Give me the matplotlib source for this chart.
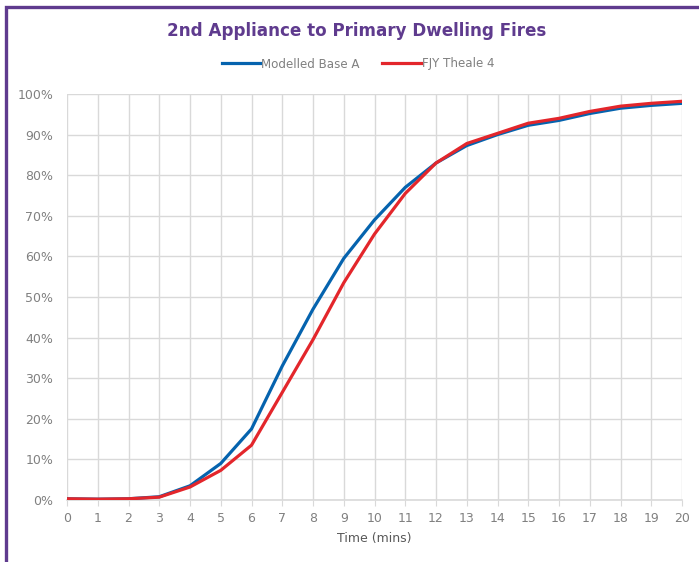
import matplotlib
matplotlib.use("Agg")
import matplotlib.pyplot as plt
from matplotlib.patches import Rectangle
from matplotlib.ticker import FuncFormatter

# ----------------- DATA -----------------
minutes = list(range(0, 21))
modelled_base_a = [0.3, 0.2, 0.3, 0.8, 3.5, 9.0, 17.5, 33.0, 47.0, 59.5, 69.0,
                   77.0, 83.0, 87.3, 90.0, 92.3, 93.5, 95.2, 96.5, 97.2, 97.7]
fjy_theale_4 = [0.3, 0.2, 0.3, 0.7, 3.2, 7.3, 13.5, 26.5, 39.5, 53.5, 65.5,
                75.5, 83.0, 87.8, 90.3, 92.8, 94.0, 95.7, 97.0, 97.7, 98.2]
y_ticks = list(range(0, 101, 10))

TITLE = "2nd Appliance to Primary Dwelling Fires"
PURPLE = "#5f3b8e"
GREY_TXT = "#808080"
GRID = "#d9d9d9"

plt.rcParams["font.family"] = ["DejaVu Sans"]

fig = plt.figure(figsize=(6.99, 5.62), dpi=100)
ax = fig.add_axes([67 / 699, 1 - 500 / 562, 615 / 699, 406 / 562])

ax.plot(minutes, modelled_base_a, color="#0563ae", lw=2.3, label="Modelled Base A",
        solid_joinstyle="round", zorder=3)
ax.plot(minutes, fjy_theale_4, color="#e3262b", lw=2.3, label="FJY Theale 4",
        solid_joinstyle="round", zorder=4)

ax.set_xlim(0, 20)
ax.set_ylim(0, 100)
ax.set_xticks(minutes)
ax.set_yticks(y_ticks)
ax.yaxis.set_major_formatter(FuncFormatter(lambda v, p: f"{int(v)}%"))
ax.grid(True, color=GRID, lw=1)
ax.set_axisbelow(True)
for s in ["left", "top", "right"]:
    ax.spines[s].set_visible(False)
ax.spines["bottom"].set_color(GRID)
ax.spines["bottom"].set_linewidth(1.2)
ax.tick_params(axis="x", colors=GREY_TXT, labelsize=9, length=4, color=GRID, pad=5)
ax.tick_params(axis="y", colors=GREY_TXT, labelsize=9, length=0, pad=10)
ax.set_xlabel("Time (mins)", color="#595959", fontsize=9, labelpad=5)

fig.text(357 / 699, 1 - 31 / 562, TITLE, ha="center", va="center", color=PURPLE,
         fontsize=12.1, fontweight="bold")
leg = fig.legend(loc="center", bbox_to_anchor=(358 / 699, 1 - 64 / 562), ncol=2, frameon=False,
                 fontsize=8.6, handlelength=3.2, handletextpad=0.1, columnspacing=1.9)
for t in leg.get_texts():
    t.set_color(GREY_TXT)

# purple frame around the chart, running off the right and bottom edges
fig.patches.append(Rectangle((6 / 699, -0.05), 1.2, 1 - 7 / 562 + 0.05,
                             transform=fig.transFigure, fill=False,
                             edgecolor=PURPLE, lw=2.4))

fig.savefig("out.png", dpi=100)
